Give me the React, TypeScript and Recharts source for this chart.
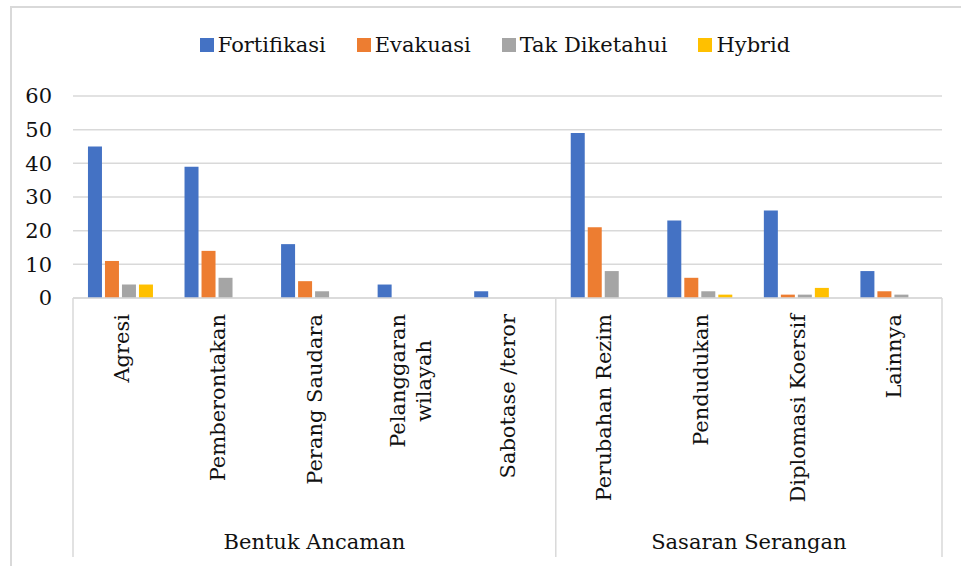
import { Bar, BarChart, CartesianGrid, Legend, XAxis, YAxis } from 'recharts'

const categories = [
  'Agresi',
  'Pemberontakan',
  'Perang Saudara',
  'Pelanggaran wilayah',
  'Sabotase /teror',
  'Perubahan Rezim',
  'Pendudukan',
  'Diplomasi Koersif',
  'Lainnya',
]
// labels that Excel wrapped onto two lines
const tickLines: Record<string, string[]> = {
  'Pelanggaran wilayah': ['Pelanggaran', 'wilayah'],
}
const groups = [
  { name: 'Bentuk Ancaman', size: 5 },
  { name: 'Sasaran Serangan', size: 4 },
]

const seriesNames = ['Fortifikasi', 'Evakuasi', 'Tak Diketahui', 'Hybrid']
const fortifikasi = [45, 39, 16, 4, 2, 49, 23, 26, 8]
const evakuasi = [11, 14, 5, 0, 0, 21, 6, 1, 2]
const takDiketahui = [4, 6, 2, 0, 0, 8, 2, 1, 1]
const hybrid = [4, 0, 0, 0, 0, 0, 1, 3, 0]

const yTicks = [0, 10, 20, 30, 40, 50, 60]

const FONT = '"DejaVu Serif", serif'
const FONT_SIZE = 21
const GRID = '#d9d9d9'

const data = categories.map((name, i) => ({
  name,
  fortifikasi: fortifikasi[i],
  evakuasi: evakuasi[i],
  takDiketahui: takDiketahui[i],
  hybrid: hybrid[i],
}))

// first index of each group, so the tick knows where a group starts
const groupStarts: Record<number, { name: string; size: number }> = {}
{
  let idx = 0
  for (const g of groups) {
    groupStarts[idx] = g
    idx += g.size
  }
}

let measureCtx: CanvasRenderingContext2D | null = null
function textWidth(s: string) {
  if (!measureCtx) {
    measureCtx = document.createElement('canvas').getContext('2d')
  }
  if (!measureCtx) return s.length * FONT_SIZE * 0.55
  measureCtx.font = `${FONT_SIZE}px "DejaVu Serif"`
  return measureCtx.measureText(s).width
}

function CategoryTick(props: any) {
  const { x, y, payload, index } = props
  const half = payload?.offset || 48.25
  const lines = tickLines[payload.value] ?? [payload.value]
  const maxW = Math.max(...lines.map(textWidth))
  const top = y + 16
  const lineH = 26
  const group = groupStarts[index]
  const isLast = index === categories.length - 1

  return (
    <g>
      {lines.map((line, i) => (
        <text
          key={line}
          transform={`translate(${x + (i - (lines.length - 1) / 2) * lineH},${top + maxW / 2}) rotate(-90)`}
          textAnchor="middle"
          dy="0.35em"
          fill="#111"
          fontSize={FONT_SIZE}
          fontFamily={FONT}
        >
          {line}
        </text>
      ))}
      {group && (
        <>
          <line x1={x - half} x2={x - half} y1={y} y2={y + 259} stroke={GRID} strokeWidth={1.5} />
          <text
            x={x - half + group.size * half}
            y={y + 251}
            textAnchor="middle"
            fill="#111"
            fontSize={FONT_SIZE}
            fontFamily={FONT}
          >
            {group.name}
          </text>
        </>
      )}
      {isLast && (
        <line x1={x + half} x2={x + half} y1={y} y2={y + 259} stroke={GRID} strokeWidth={1.5} />
      )}
    </g>
  )
}

function LegendContent(props: any) {
  const items = [...(props.payload ?? [])].sort(
    (a: any, b: any) => seriesNames.indexOf(a.value) - seriesNames.indexOf(b.value),
  )
  return (
    <div
      style={{
        height: 96,
        width: 961,
        display: 'flex',
        justifyContent: 'center',
        paddingLeft: 29,
        paddingTop: 30,
        boxSizing: 'border-box',
        gap: 31,
        fontFamily: FONT,
        fontSize: FONT_SIZE,
        color: '#111',
      }}
    >
      {items.map((it: any) => (
        <div key={it.value} style={{ display: 'flex', alignItems: 'center', height: 30 }}>
          <span style={{ width: 14, height: 14, background: it.color, marginRight: 4 }} />
          <span>{it.value}</span>
        </div>
      ))}
    </div>
  )
}

export default function App() {
  return (
    <div
      style={{
        position: 'absolute',
        left: 0,
        top: 0,
        width: 961,
        height: 566,
        overflow: 'hidden',
        background: '#fff',
      }}
    >
      <div
        style={{
          position: 'absolute',
          left: 10,
          top: 6,
          width: 1100,
          height: 700,
          border: `2px solid ${GRID}`,
        }}
      />
      <div style={{ position: 'absolute', left: 0, top: 0 }}>
        <BarChart
          width={961}
          height={566}
          data={data}
          margin={{ top: 0, right: 19, bottom: 9, left: 0 }}
          barCategoryGap="15.5%"
          barGap={3}
        >
          <CartesianGrid vertical={false} stroke={GRID} strokeWidth={1.5} />
          <Legend verticalAlign="top" align="center" content={LegendContent} />
          <XAxis
            dataKey="name"
            interval={0}
            height={259}
            tickSize={0}
            tickMargin={0}
            tickLine={false}
            axisLine={{ stroke: GRID, strokeWidth: 1.5 }}
            tick={CategoryTick}
          />
          <YAxis
            domain={[0, 60]}
            ticks={yTicks}
            width={73}
            axisLine={false}
            tickLine={false}
            tickSize={0}
            tickMargin={21}
            tick={{ fill: '#111', fontSize: FONT_SIZE, fontFamily: FONT }}
          />
          <Bar dataKey="fortifikasi" name={seriesNames[0]} fill="#4472C4" isAnimationActive={false} />
          <Bar dataKey="evakuasi" name={seriesNames[1]} fill="#ED7D31" isAnimationActive={false} />
          <Bar dataKey="takDiketahui" name={seriesNames[2]} fill="#A5A5A5" isAnimationActive={false} />
          <Bar dataKey="hybrid" name={seriesNames[3]} fill="#FFC000" isAnimationActive={false} />
        </BarChart>
      </div>
    </div>
  )
}
